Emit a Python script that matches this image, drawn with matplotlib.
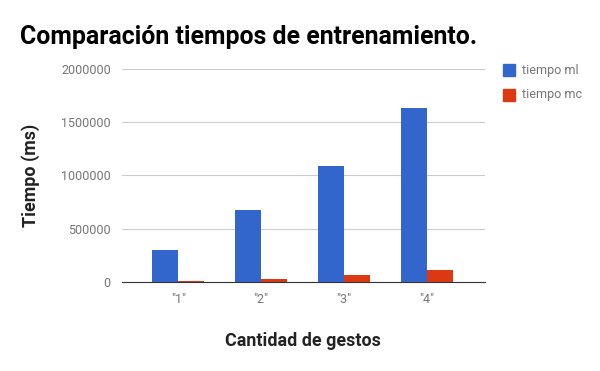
import numpy as np
import matplotlib
matplotlib.use('Agg')
import matplotlib.pyplot as plt
from matplotlib.patches import Rectangle

categories = ['"1"', '"2"', '"3"', '"4"']
tiempo_ml = [300000, 680000, 1090000, 1635000]
tiempo_mc = [12000, 28000, 68000, 113000]
yticks = [0, 500000, 1000000, 1500000, 2000000]

plt.rcParams['font.family'] = ['Roboto', 'DejaVu Sans']


def main():
    fig = plt.figure(figsize=(6, 3.71), dpi=100)
    ax = fig.add_axes([0.203, 0.24, 0.605, 0.574])
    x = np.arange(len(categories))
    w = 0.315
    ax.bar(x - w / 2, tiempo_ml, w, color='#3366cc', label='tiempo ml', zorder=3)
    ax.bar(x + w / 2, tiempo_mc, w, color='#dc3912', label='tiempo mc', zorder=3)

    ax.set_xlim(-0.68, 3.7)
    ax.set_ylim(0, 2000000)
    ax.set_yticks(yticks)
    ax.set_yticklabels([str(v) for v in yticks])
    ax.set_xticks(x)
    ax.set_xticklabels(categories)
    ax.tick_params(colors='#757575', labelsize=9, length=0, pad=8)
    ax.grid(axis='y', color='#cccccc', linewidth=0.8, zorder=0)
    for s in ['top', 'right', 'left']:
        ax.spines[s].set_visible(False)
    ax.spines['bottom'].set_color('#333333')
    ax.spines['bottom'].set_zorder(4)

    ax.set_ylabel('Tiempo (ms)', fontsize=12.9, fontweight='bold', color='#222222')
    ax.yaxis.set_label_coords(-0.226, 0.5)
    fig.text(0.505, 0.082, 'Cantidad de gestos', fontsize=12.9, fontweight='bold',
             color='#222222', ha='center', va='center')
    fig.text(0.033, 0.9, 'Comparación tiempos de entrenamiento.', fontsize=17.9,
             fontweight='bold', color='#000000', ha='left', va='center')

    # legend
    items = [('tiempo ml', '#3366cc'), ('tiempo mc', '#dc3912')]
    for i, (lab, c) in enumerate(items):
        yy = 0.811 - i * 0.067
        fig.patches.append(Rectangle((0.838, yy - 0.016), 0.02, 0.032, color=c,
                                     transform=fig.transFigure, figure=fig))
        fig.text(0.87, yy, lab, fontsize=9, color='#757575', ha='left', va='center')

    fig.savefig('out.png', dpi=100)


if __name__ == '__main__':
    main()
